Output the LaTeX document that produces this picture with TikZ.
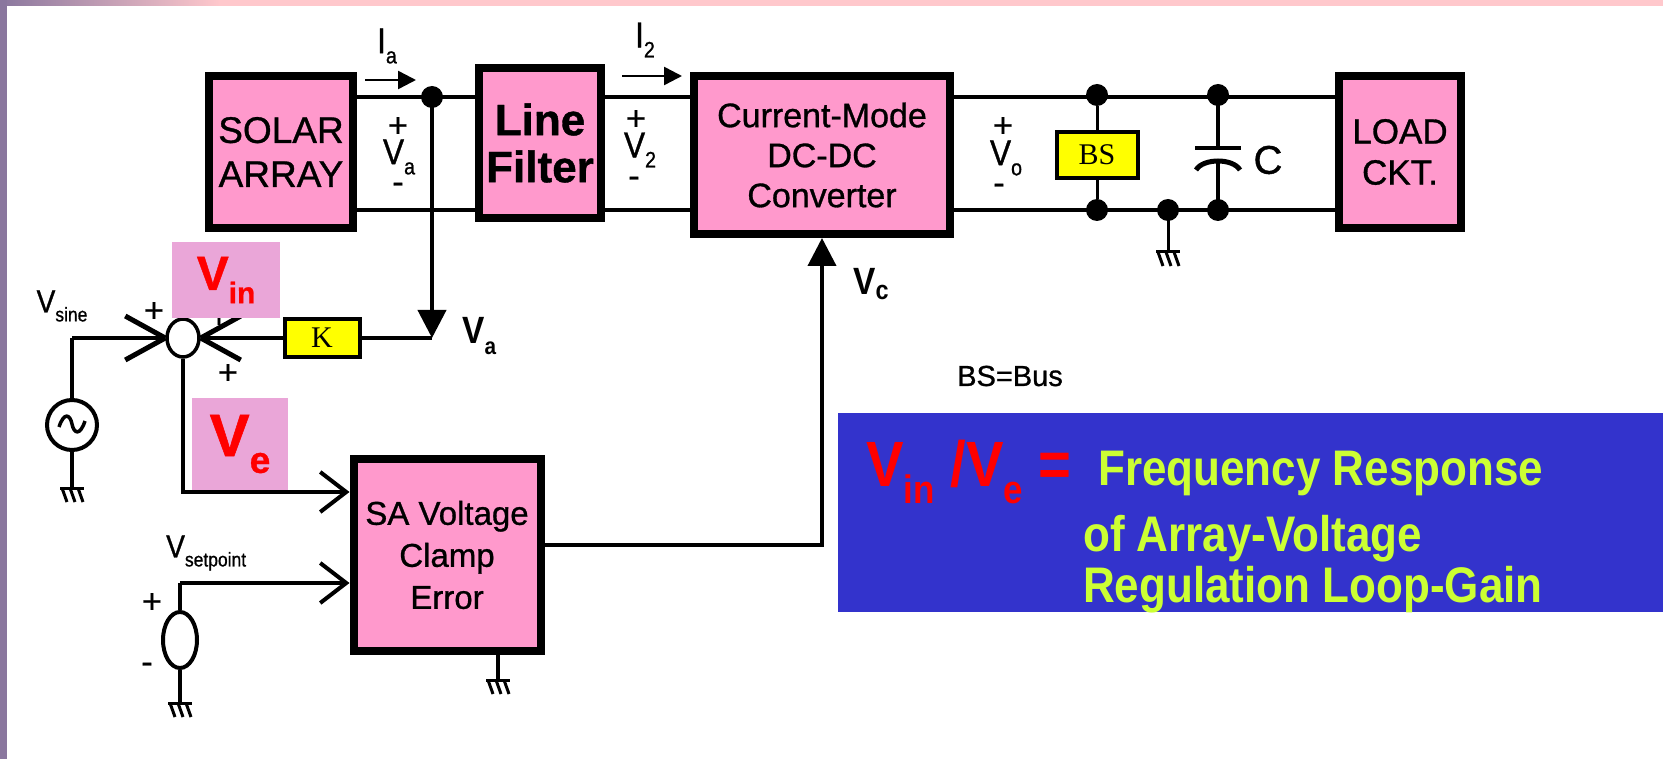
\documentclass[tikz,border=0pt]{standalone}
\usepackage{fontspec}
\setmainfont{Liberation Sans}[FakeBold=0.9]
\newfontfamily\serifk{Liberation Serif}
\newfontfamily\narrow[FakeStretch=0.88,FakeBold=0.9]{Liberation Sans}
\newfontfamily\narrowb[FakeStretch=0.88]{Liberation Sans Bold}
\usetikzlibrary{arrows.meta,shapes.geometric}
\definecolor{boxpink}{RGB}{255,153,204}
\definecolor{lblpink}{RGB}{234,166,216}
\definecolor{ylw}{RGB}{255,255,0}
\definecolor{bluebox}{RGB}{51,51,204}
\definecolor{grn}{RGB}{204,255,51}
\definecolor{strip}{RGB}{138,119,158}
\definecolor{band}{RGB}{255,200,204}
\newcommand{\fs}[1]{\fontsize{#1}{#1}\selectfont}
\newcommand{\fsl}[2]{\fontsize{#1}{#2}\selectfont}
\newcommand{\sbs}[1]{\raisebox{-0.28em}{\scalebox{0.62}{#1}}}
\newcommand{\sbc}[1]{\raisebox{-0.12em}{\scalebox{0.7}{#1}}}
\tikzset{
  blk/.style={draw=black, line width=8pt, fill=boxpink, inner sep=0pt, align=center},
  ybox/.style={draw=black, line width=4pt, fill=ylw, inner sep=0pt, font=\serifk\fs{30}},
  wire/.style={line width=4pt},
  jdot/.style={circle, fill=black, inner sep=0pt, minimum size=22pt},
  lbl/.style={inner sep=0pt, font=\fs{34}},
  tri/.style={-{Triangle[length=28pt,width=28pt]}},
  barb/.style={-{Straight Barb[length=26pt,width=40pt,line width=4pt]}},
  gnd/.pic={\draw[line width=3pt] (-12,0)--(12,0);
    \foreach \q in {-10,-2,6}{\draw[line width=3pt] (\q,0)--(\q+5,14);}}
}
\begin{document}
\begin{tikzpicture}[x=1pt,y=-1pt]
\useasboundingbox (0,0) rectangle (1663,759);
\fill[white] (0,0) rectangle (1663,759);
% frame decoration
\shade[left color=strip, right color=band] (0,0) rectangle (220,6);
\fill[band] (219,0) rectangle (1663,6);
\fill[strip] (0,0) rectangle (7,759);

\coordinate (ytop) at (0,97);
\coordinate (ybot) at (0,210);

% main blocks
\node[blk, minimum width=144pt, minimum height=152pt, font=\fsl{37}{44}] (solar) at (281,152) {SOLAR\\ARRAY};
\node[blk, minimum width=122pt, minimum height=150pt, font=\bfseries\fsl{44}{47}] (filt) at (540,143) {Line\\Filter};
\node[blk, minimum width=256pt, minimum height=158pt, font=\fsl{34}{40}] (conv) at (822,155) {Current-Mode\\DC-DC\\Converter};
\node[blk, minimum width=122pt, minimum height=152pt, font=\fsl{35}{41}] (load) at (1400,152) {LOAD\\CKT.};
\node[blk, minimum width=187pt, minimum height=192pt, font=\fsl{33}{42}] (sa) at (447,555) {SA Voltage\\Clamp\\Error};

% bus wires
\draw[wire] (solar.east |- ytop) -- (filt.west |- ytop);
\draw[wire] (solar.east |- ybot) -- (filt.west |- ybot);
\draw[wire] (filt.east |- ytop) -- (conv.west |- ytop);
\draw[wire] (filt.east |- ybot) -- (conv.west |- ybot);
\draw[wire] (conv.east |- ytop) -- (load.west |- ytop);
\draw[wire] (conv.east |- ybot) -- (load.west |- ybot);

% junction and Va feedback
\node[jdot] (j1) at (432,97) {};
\coordinate (vatip) at (432,338);
\draw[wire,tri] (j1.center) -- (vatip);
\node[inner sep=0pt, font=\narrowb\fs{38}, anchor=west] (valbl) at (462,336) {V\sbs{a}};

% current arrows
\coordinate (ia1) at (365,80); \coordinate (ia2) at (416,80);
\draw[line width=2.5pt,-{Triangle[length=18pt,width=18pt]}] (ia1) -- (ia2);
\node[lbl, font=\narrow\fs{36}] (ialbl) at (387,46) {I\sbs{a}};
\coordinate (i21) at (622,76); \coordinate (i22) at (682,76);
\draw[line width=2.5pt,-{Triangle[length=18pt,width=18pt]}] (i21) -- (i22);
\node[lbl, font=\narrow\fs{36}] (i2lbl) at (645,40) {I\sbs{2}};

% voltage labels
\node[lbl] (pa) at (398,127) {+};
\node[lbl, font=\narrow\fs{36}] (va) at (399,157) {V\sbs{a}};
\node[lbl] (ma) at (398,188) {-};
\node[lbl] (p2) at (636,120) {+};
\node[lbl, font=\narrow\fs{36}] (v2) at (640,150) {V\sbs{2}};
\node[lbl] (m2) at (634,182) {-};
\node[lbl] (po) at (1003,127) {+};
\node[lbl, font=\narrow\fs{36}] (vo) at (1006,158) {V\sbs{o}};
\node[lbl] (mo) at (999,189) {-};

% BS block
\node[jdot] (bst) at (1097,95) {};
\node[jdot] (bsb) at (1097,210) {};
\node[ybox, minimum width=81pt, minimum height=46pt] (bs) at (1097,155) {BS};
\draw[line width=3pt] (bst) -- (bs.north);
\draw[line width=3pt] (bs.south) -- (bsb);

% ground on bus
\node[jdot] (gb) at (1168,210) {};
\coordinate (gbg) at (1168,252);
\draw[line width=3pt] (gb.center) -- (gbg);
\pic at (gbg) {gnd};

% capacitor
\node[jdot] (ct) at (1218,95) {};
\node[jdot] (cb) at (1218,210) {};
\coordinate (cp1) at (1218,148);
\coordinate (cp2) at (1218,160);
\draw[line width=4pt] (ct.center) -- (cp1);
\draw[line width=4pt] (1195,148) -- (1241,148);
\draw[line width=5pt] (1196,170) .. controls (1203,158) and (1233,158) .. (1240,170);
\draw[line width=4pt] (cp2) -- (cb.center);
\node[inner sep=0pt, font=\fs{40}] (clbl) at (1268,160) {C};

% control voltage to converter
\coordinate (vcc) at (822,545);
\draw[wire,tri] (sa.east |- vcc) -- (vcc) -- (conv.south);
\node[inner sep=0pt, font=\narrowb\fs{38}, anchor=west] (vclbl) at (853,284) {V\sbc{c}};

% summing junction
\node[draw, line width=3.5pt, ellipse, minimum width=32pt, minimum height=38pt, inner sep=0pt] (sum) at (183,338) {};
\node[ybox, minimum width=75pt, minimum height=38pt] (k) at (322,338) {K};
\draw[wire] (k.east) -- (vatip);
\draw[wire] (k.west) -- (sum.east);
\draw[line width=5pt] (sum.east) -- ++(40,-22);
\draw[line width=5pt] (sum.east) -- ++(40,22);
\coordinate (vsc) at (72,338);
\draw[wire] (vsc) -- (sum.west);
\draw[line width=5pt] (sum.west) -- ++(-40,-22);
\draw[line width=5pt] (sum.west) -- ++(-40,22);
\node[lbl] (ps1) at (154,312) {+};
\node[lbl] (ps2) at (219,318) {+};
\node[lbl] (ps3) at (228,374) {+};
\node[inner sep=0pt, font=\narrow\fs{32}] (vsinelbl) at (62,306) {V\sbs{sine}};

% Vsine source
\node[draw, circle, line width=4pt, minimum size=50pt, inner sep=0pt] (vs) at (72,425) {};
\draw[line width=3.5pt] (59,427) .. controls (64,412) and (70,414) .. (72,424) .. controls (74,434) and (80,436) .. (85,421);
\draw[wire] (vsc) -- (vs.north);
\coordinate (vsg) at (72,488);
\draw[wire] (vs.south) -- (vsg);
\pic at (vsg) {gnd};

% error path
\coordinate (ec) at (183,492);
\draw[wire,barb] (sum.south) -- (ec) -- (sa.west |- ec);

% Vin / Ve tags
\node[fill=lblpink, minimum width=108pt, minimum height=76pt, inner sep=0pt, text=red, font=\bfseries\fs{48}] (vin) at (226,280) {V\sbs{in}};
\node[fill=lblpink, minimum width=96pt, minimum height=92pt, inner sep=0pt, text=red, font=\bfseries\fs{60}] (ve) at (240,444) {V\sbs{e}};

% setpoint source
\coordinate (spc) at (180,583);
\node[draw, ellipse, line width=4pt, minimum width=34pt, minimum height=56pt, inner sep=0pt] (vsp) at (180,640) {};
\draw[wire] (vsp.north) -- (spc);
\draw[wire,barb] (spc) -- (sa.west |- spc);
\node[inner sep=0pt, font=\narrow\fs{32}, anchor=west] (vsplbl) at (166,553) {V\sbs{setpoint}};
\node[lbl] (psp) at (152,603) {+};
\node[lbl] (msp) at (147,668) {-};
\coordinate (vspg) at (180,703);
\draw[wire] (vsp.south) -- (vspg);
\pic at (vspg) {gnd};

% SA ground
\coordinate (sag0) at (498,0);
\coordinate (sag) at (498,680);
\draw[wire] (sa.south -| sag0) -- (sag);
\pic at (sag) {gnd};

% legend
\node[inner sep=0pt, font=\fs{29}] (bslegend) at (1010,376) {BS=Bus};

% result box
\node[fill=bluebox, minimum width=825pt, minimum height=199pt, inner sep=0pt, anchor=north west] (res) at (838,413) {};
\node[anchor=base west, inner sep=0pt, text=red, font=\narrowb\fs{64}] (ratio) at (866,486) {V\sbs{in} /V\sbs{e} =};
\node[anchor=base west, inner sep=0pt, text=grn, font=\narrowb\fs{50}] (t1) at (1098,485) {Frequency Response};
\node[anchor=base west, inner sep=0pt, text=grn, font=\narrowb\fs{50}] (t2) at (1083,551) {of Array-Voltage};
\node[anchor=base west, inner sep=0pt, text=grn, font=\narrowb\fs{50}] (t3) at (1083,602) {Regulation Loop-Gain};
\end{tikzpicture}
\end{document}
